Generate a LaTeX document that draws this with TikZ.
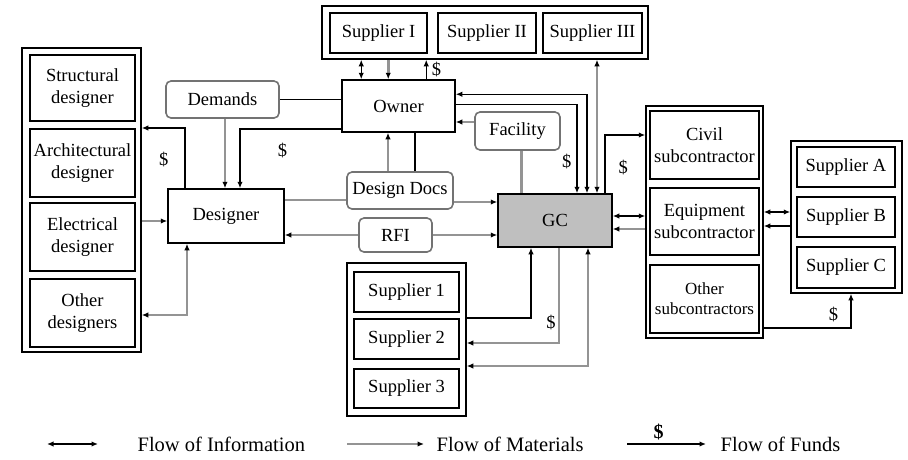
\documentclass[tikz,border=0pt]{standalone}
\usepackage{fontspec}
\setmainfont{Liberation Serif}
\usetikzlibrary{arrows.meta}

\begin{document}
\begin{tikzpicture}
[x=1pt,y=-1pt,line width=1.3pt,%
  >={Latex[length=6.5pt,width=5.5pt,color=black]},%
  every node/.style={inner sep=0pt,align=center},%
  box/.style={draw,line width=1.8pt},%
  grp/.style={draw,line width=1.5pt},%
  rbox/.style={draw=black!55,line width=1.6pt,rounded corners=5pt},%
  info/.style={<->},%
  fund/.style={->},%
  plain/.style={-},%
  mat/.style={->,draw=black!42,line width=2.8pt},%
  matboth/.style={<->,draw=black!42,line width=2.8pt},%
  matline/.style={-,draw=black!42,line width=2.8pt}]
\fontsize{18.5}{22}\selectfont
\useasboundingbox (0,0) rectangle (908,459);
% suppliers I-III
\node[grp,minimum width=326,minimum height=53] (top) at (485,32.5) {};
\node[box,minimum width=97,minimum height=40] (sI) at (378.5,33) {Supplier I};
\node[box,minimum width=98,minimum height=40] (sII) at (487,33) {Supplier II};
\node[box,minimum width=99,minimum height=40] (sIII) at (592.5,33) {Supplier III};
% designers
\node[grp,minimum width=119,minimum height=304] (dgrp) at (81.5,200) {};
\node[box,minimum width=105,minimum height=66] (str) at (82.5,88) {Structural\\designer};
\node[box,minimum width=105,minimum height=68] (arch) at (82.5,163) {Architectural\\designer};
\node[box,minimum width=105,minimum height=68] (elec) at (82.5,237) {Electrical\\designer};
\node[box,minimum width=105,minimum height=68] (odes) at (82.5,313) {Other\\designers};
% owner, designer, gc
\node[grp,minimum width=113,minimum height=52] (owner) at (398.5,106) {Owner};
\node[grp,minimum width=116,minimum height=54] (des) at (226,216) {Designer};
\node[grp,fill=black!25,minimum width=114,minimum height=53] (gc) at (555,220.5) {GC};
\node[rbox,minimum width=113,minimum height=37] (dem) at (222.5,99.5) {Demands};
\node[rbox,minimum width=106,minimum height=37] (ddoc) at (400,190.5) {Design Docs};
\node[rbox,minimum width=73,minimum height=34] (rfi) at (395.5,235) {RFI};
\node[rbox,minimum width=85,minimum height=38] (fac) at (517.5,131) {Facility};
% subcontractors
\node[grp,minimum width=117,minimum height=232] (subs) at (704.5,222) {};
\node[box,minimum width=109,minimum height=68] (civil) at (704.5,145) {Civil\\subcontractor};
\node[box,minimum width=109,minimum height=67] (equip) at (704.5,221.5) {Equipment\\subcontractor};
\node[box,minimum width=109,minimum height=68,font=\fontsize{17}{20}\selectfont] (osub) at (704.5,299) {Other\\subcontractors};
% suppliers A-C
\node[grp,minimum width=111,minimum height=152] (abc) at (846.5,217) {};
\node[box,minimum width=98,minimum height=40] (sA) at (846,167) {Supplier A};
\node[box,minimum width=98,minimum height=40] (sB) at (846,217) {Supplier B};
\node[box,minimum width=98,minimum height=41] (sC) at (846,267.5) {Supplier C};
% suppliers 1-3
\node[grp,minimum width=119,minimum height=153] (sup) at (406.5,339.5) {};
\node[box,minimum width=105,minimum height=40] (s1) at (406.5,292) {Supplier 1};
\node[box,minimum width=105,minimum height=40] (s2) at (406.5,339) {Supplier 2};
\node[box,minimum width=105,minimum height=39] (s3) at (406.5,388.5) {Supplier 3};
% owner links
\draw[info] ([xshift=20pt]owner.north west) -- ([xshift=20pt]owner.north west |- top.south);
\draw[mat] ([xshift=47pt]owner.north west |- top.south) -- ([xshift=47pt]owner.north west);
\draw[fund] ([xshift=85pt]owner.north west) -- ([xshift=85pt]owner.north west |- top.south) node[midway,right=5pt]{\$};
\draw[info] ([yshift=-15pt]owner.north east) -| ([xshift=32pt]gc.north);
\draw[fund] ([yshift=-25pt]owner.north east) -| ([xshift=22pt]gc.north) node[pos=0.82,left=5pt]{\$};
\draw[matboth] ([xshift=42pt]gc.north) -- ([xshift=42pt]gc.north |- top.south);
\draw[mat] ([yshift=9pt]fac.west) -- ([yshift=9pt]fac.west -| owner.east);
\draw[matline] ([xshift=4pt]fac.south) -- ([xshift=4pt]fac.south |- gc.north);
\draw[plain] (dem.east) -- (dem.east -| owner.west);
\draw[mat] ([xshift=-12pt]ddoc.north) -- ([xshift=-12pt]ddoc.north |- owner.south);
\draw[plain] ([xshift=15pt]ddoc.north) -- ([xshift=15pt]ddoc.north |- owner.south);
% designer links
\draw[mat] ([xshift=2.5pt]dem.south) -- ([xshift=2.5pt]dem.south |- des.north);
\draw[fund] ([yshift=-23pt]owner.west) -| ([xshift=14pt]des.north) node[pos=0.29,below=13pt]{\$};
\draw[fund] ([xshift=-41pt]des.north) |- ([yshift=35pt]arch.east -| dgrp.east) node[pos=0.24,left=16pt]{\$};
\draw[mat] ([yshift=16pt]elec.east -| dgrp.east) -- ([yshift=16pt]elec.east -| des.west);
\draw[matboth] ([xshift=-39pt]des.south) |- ([yshift=-2pt]odes.east -| dgrp.east);
\draw[matline] ([yshift=16pt]des.east) -- ([yshift=16pt]des.east -| ddoc.west);
\draw[mat] ([yshift=-11.5pt]ddoc.east) -- ([yshift=-11.5pt]ddoc.east -| gc.west);
\draw[mat] (rfi.west) -- (rfi.west -| des.east);
\draw[mat] (rfi.east) -- (rfi.east -| gc.west);
% gc and subcontractors
\draw[fund] ([xshift=50pt]gc.north) |- ([yshift=10pt]civil.west -| subs.west) node[pos=0.22,right=13pt]{\$};
\draw[info] ([yshift=4.5pt]gc.east) -- ([yshift=4.5pt]gc.east -| subs.west);
\draw[mat] ([yshift=-8.5pt]gc.east -| subs.west) -- ([yshift=-8.5pt]gc.east);
\draw[info] ([yshift=5pt]sB.west -| subs.east) -- ([yshift=5pt]sB.west -| abc.west);
\draw[fund] ([yshift=-9pt]sB.west -| abc.west) -- ([yshift=-9pt]sB.west -| subs.east);
\draw[fund] ([yshift=-29pt]osub.east -| subs.east) -| ([xshift=4.5pt]abc.south) node[pos=0.4,above=5pt]{\$};
% gc and suppliers 1-3
\draw[fund] ([yshift=-26pt]s1.east -| sup.east) -| ([xshift=-24pt]gc.south);
\draw[mat] ([xshift=4pt]gc.south) |- ([yshift=-4pt]s2.east -| sup.east) node[pos=0.39,left=2pt]{\$};
\draw[matboth] ([xshift=33pt]gc.south) |- ([yshift=22.5pt]s3.east -| sup.east);
% legend
\node[anchor=west,font=\fontsize{20.5}{24}\selectfont] (linfo) at (137,444) {Flow of Information};
\node[anchor=west,font=\fontsize{20.5}{24}\selectfont] (lmat) at (436,444) {Flow of Materials};
\node[anchor=west,font=\fontsize{20.5}{24}\selectfont] (lfund) at (720,444) {Flow of Funds};
\draw[info] ([xshift=-90pt]linfo.west) -- ([xshift=-39pt]linfo.west);
\draw[mat] ([xshift=-89pt]lmat.west) -- ([xshift=-12pt]lmat.west);
\draw[fund] ([xshift=-93pt]lfund.west) -- ([xshift=-14pt]lfund.west) node[pos=0.4,above=3pt,font=\fontsize{20}{24}\bfseries]{\$};
\end{tikzpicture}
\end{document}
